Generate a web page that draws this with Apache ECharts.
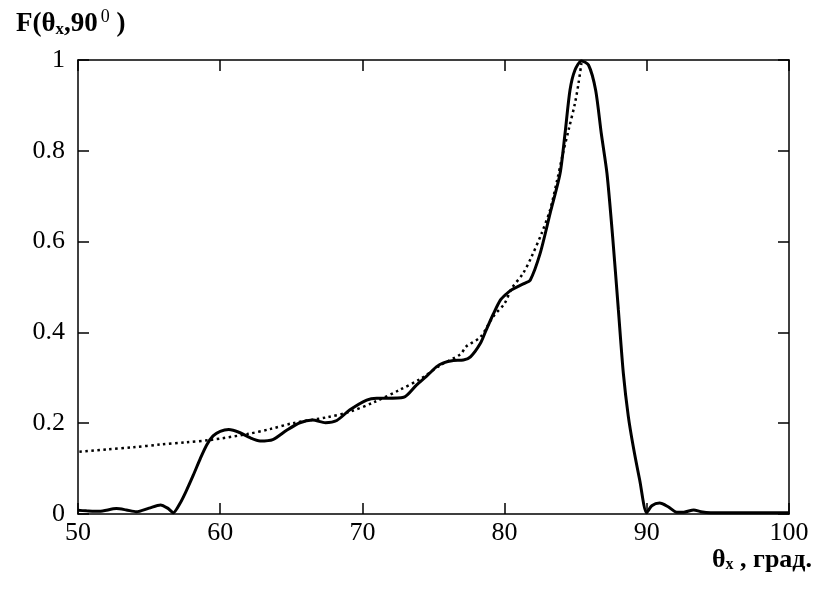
<!DOCTYPE html>
<html>
<head>
<meta charset="utf-8">
<script src="https://cdn.jsdelivr.net/npm/echarts@6/dist/echarts.min.js"></script>
<style>
html,body{margin:0;padding:0;background:#fff;}
#c{width:830px;height:591px;}
</style>
</head>
<body>
<div id="c"></div>
<script>
// Solid curve (theta_x, F)
var solidTheta = [50.0, 50.6, 51.5, 52.7, 53.4, 54.1, 55.0, 55.8, 56.3, 56.7, 57.2, 57.6, 58.1, 58.6, 59.05, 59.5, 60.0, 60.6, 61.4, 62.1, 62.8, 63.7, 64.7, 65.6, 66.5, 67.4, 68.2, 69.1, 70.3, 71.0, 71.7, 72.9, 73.8, 74.5, 75.2, 75.7, 76.4, 77.1, 77.6, 78.3, 78.7, 79.2, 79.7, 80.1, 80.5, 81.0, 81.4, 81.8, 82.5, 83.2, 83.9, 84.25, 84.6, 84.95, 85.4, 85.9, 86.4, 86.8, 87.2, 87.6, 88.0, 88.35, 88.7, 89.05, 89.5, 89.99, 90.35, 90.9, 91.5, 92.1, 92.6, 93.3, 93.8, 94.5, 97.0, 100.0];
var solidF     = [0.008, 0.007, 0.006, 0.012, 0.009, 0.005, 0.013, 0.020, 0.013, 0.003, 0.025, 0.050, 0.085, 0.122, 0.152, 0.172, 0.182, 0.186, 0.179, 0.168, 0.161, 0.164, 0.185, 0.201, 0.207, 0.201, 0.206, 0.229, 0.251, 0.255, 0.255, 0.257, 0.284, 0.303, 0.324, 0.333, 0.338, 0.339, 0.346, 0.376, 0.405, 0.440, 0.471, 0.484, 0.494, 0.502, 0.508, 0.515, 0.574, 0.662, 0.750, 0.838, 0.934, 0.978, 0.998, 0.989, 0.934, 0.838, 0.750, 0.610, 0.450, 0.310, 0.215, 0.148, 0.075, 0.003, 0.018, 0.024, 0.016, 0.004, 0.004, 0.009, 0.005, 0.003, 0.003, 0.003];

// Dotted curve (theta_x, F)
var dotTheta = [50.1, 52.0, 53.9, 55.8, 57.6, 59.3, 61.9, 63.5, 65.1, 67.5, 69.1, 70.8, 72.6, 74.1, 75.5, 76.9, 77.3, 78.3, 79.2, 80.0, 80.5, 81.3, 81.9, 82.6, 83.2, 83.7, 84.1, 84.5, 84.95, 85.2, 85.4];
var dotF     = [0.137, 0.142, 0.147, 0.153, 0.158, 0.163, 0.176, 0.187, 0.200, 0.213, 0.225, 0.246, 0.273, 0.298, 0.328, 0.352, 0.369, 0.390, 0.435, 0.464, 0.497, 0.530, 0.567, 0.618, 0.670, 0.736, 0.794, 0.846, 0.905, 0.949, 0.993];

var xTicks = [50, 60, 70, 80, 90, 100];
var yTicks = [0, 0.2, 0.4, 0.6, 0.8, 1];

function pairs(xs, ys){ var out=[]; for(var i=0;i<xs.length;i++) out.push([xs[i], ys[i]]); return out; }

var serif = '"Liberation Serif", "DejaVu Serif", serif';
var chart = echarts.init(document.getElementById('c'), null, {renderer:'canvas'});

function xAxisBase(pos, showLabel){
  return {
    type:'value', position:pos, min:xTicks[0], max:xTicks[xTicks.length-1], interval:10,
    axisLine:{show:true, onZero:false, lineStyle:{color:'#000', width:1.5}},
    axisTick:{show:true, inside:true, length:11, lineStyle:{color:'#000', width:1.5}},
    axisLabel:{show:showLabel, color:'#000', fontFamily:serif, fontSize:26, margin:6},
    splitLine:{show:false}
  };
}
function yAxisBase(pos, showLabel){
  return {
    type:'value', position:pos, min:yTicks[0], max:yTicks[yTicks.length-1], interval:0.2,
    axisLine:{show:true, onZero:false, lineStyle:{color:'#000', width:1.5}},
    axisTick:{show:true, inside:true, length:11, lineStyle:{color:'#000', width:1.5}},
    axisLabel:{show:showLabel, color:'#000', fontFamily:serif, fontSize:26, margin:13},
    splitLine:{show:false}
  };
}

chart.setOption({
  backgroundColor:'#fff',
  animation:false,
  grid:{left:78, right:41, top:60, bottom:77, containLabel:false, outerBoundsMode:'none'},
  xAxis:[xAxisBase('bottom', true), xAxisBase('top', false)],
  yAxis:[yAxisBase('left', true), yAxisBase('right', false)],
  series:[
    {
      type:'line', xAxisIndex:0, yAxisIndex:0, data:pairs(dotTheta, dotF),
      showSymbol:false, smooth:0.3, z:2,
      lineStyle:{color:'#000', width:2.5, type:[2.5,3.5]}
    },
    {
      type:'line', xAxisIndex:0, yAxisIndex:0, data:pairs(solidTheta, solidF),
      showSymbol:false, smooth:0.25, z:3,
      lineStyle:{color:'#000', width:3}
    }
  ],
  graphic:[
    {
      type:'text', left:16, top:8,
      style:{
        text:'{m|F(θ}{sub|x}{m|,90}{sup|0}{m| )}',
        rich:{
          m:{fontFamily:serif, fontSize:27, fontWeight:'bold', fill:'#000', verticalAlign:'bottom'},
          sub:{fontFamily:serif, fontSize:17, fontWeight:'bold', fill:'#000', padding:[10,0,0,0], verticalAlign:'bottom'},
          sup:{fontFamily:serif, fontSize:18, fontWeight:'normal', fill:'#000', padding:[0,0,12,3], verticalAlign:'bottom'}
        }
      }
    },
    {
      type:'text', left:712, top:547,
      style:{
        text:'{m|θ}{sub|x}{m| , град.}',
        rich:{
          m:{fontFamily:serif, fontSize:26, fontWeight:'bold', fill:'#000', verticalAlign:'bottom'},
          sub:{fontFamily:serif, fontSize:16, fontWeight:'bold', fill:'#000', padding:[10,0,0,0], verticalAlign:'bottom'}
        }
      }
    }
  ]
});
</script>
</body>
</html>
